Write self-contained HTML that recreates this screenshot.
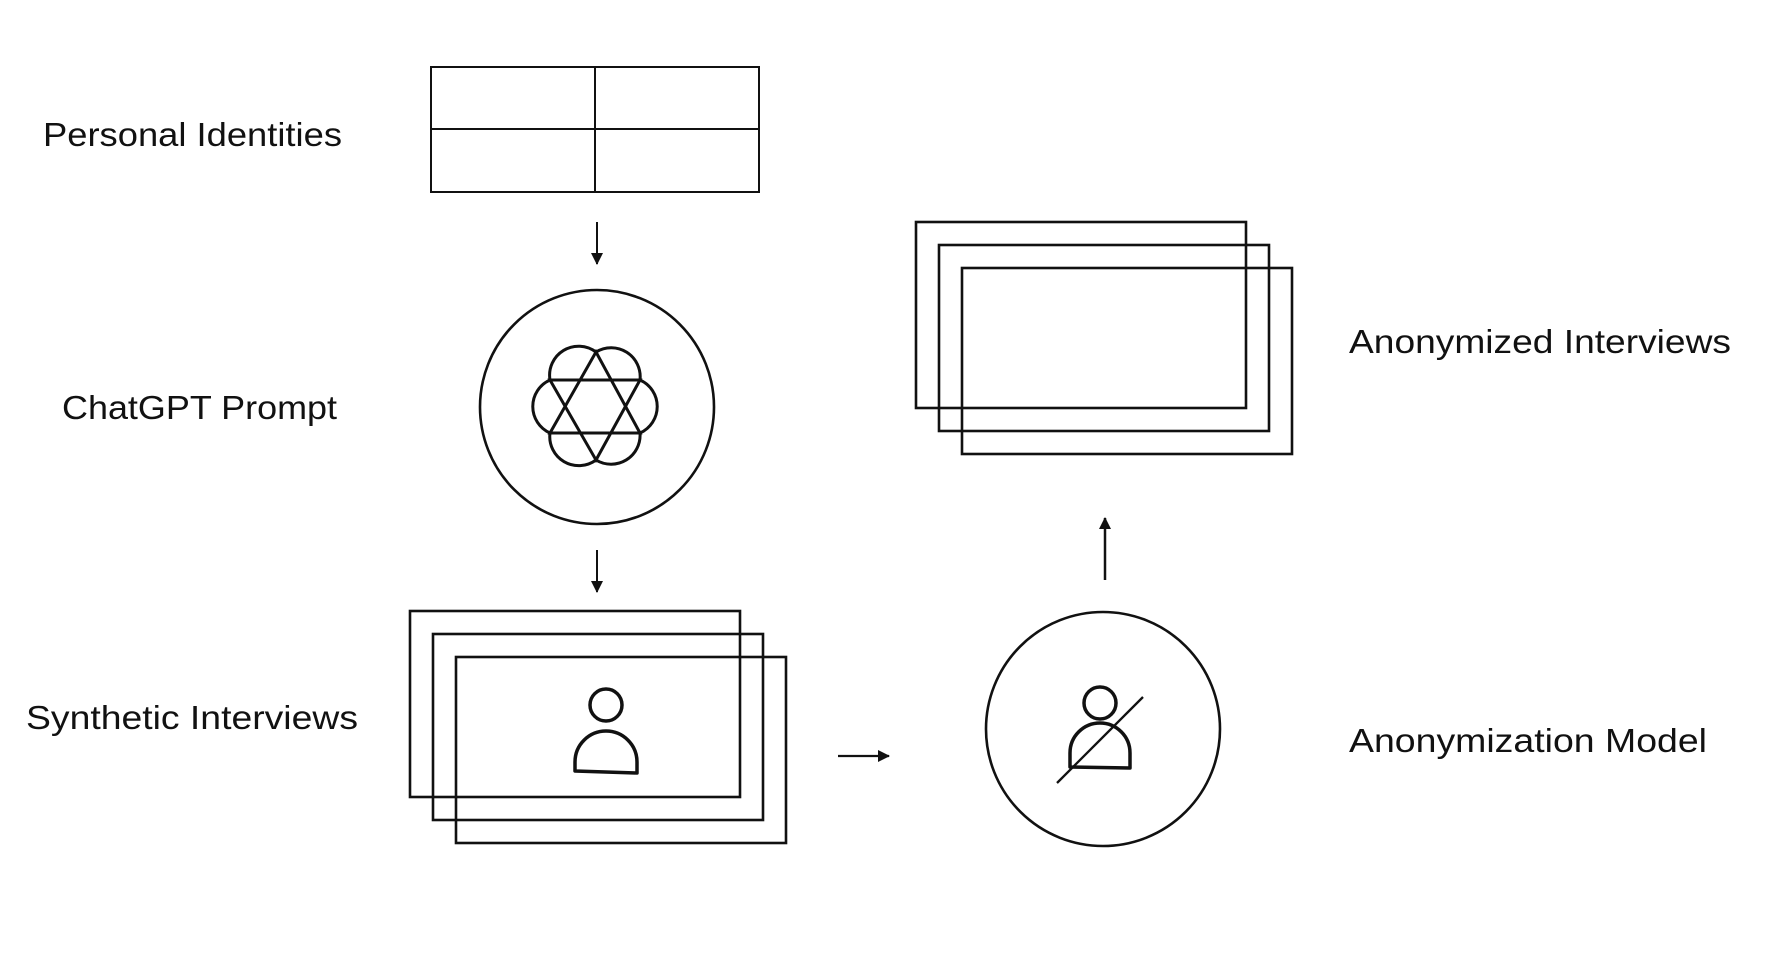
<!DOCTYPE html>
<html><head><meta charset="utf-8"><style>
html,body{margin:0;padding:0;background:#fff;}
svg{display:block;}
text{font-family:"Liberation Sans",sans-serif;font-size:33px;fill:#111;}
</style></head><body>
<svg width="1765" height="957" viewBox="0 0 1765 957" xmlns="http://www.w3.org/2000/svg">
<defs>
<marker id="ah" markerWidth="12" markerHeight="12" refX="11" refY="6" orient="auto" markerUnits="userSpaceOnUse">
<path d="M0,0 L12,6 L0,12 Z" fill="#111"/>
</marker>
</defs>
<g fill="none" stroke="#111">
<rect x="431" y="67" width="328" height="125" stroke-width="2"/>
<line x1="595" y1="67" x2="595" y2="192" stroke-width="2"/>
<line x1="431" y1="129" x2="759" y2="129" stroke-width="2"/>
<line x1="597" y1="222" x2="597" y2="264" stroke-width="2" marker-end="url(#ah)"/>
<line x1="597" y1="550" x2="597" y2="592" stroke-width="2" marker-end="url(#ah)"/>
<line x1="838" y1="756" x2="889" y2="756" stroke-width="2.2" marker-end="url(#ah)"/>
<line x1="1105" y1="580" x2="1105" y2="518" stroke-width="2.5" marker-end="url(#ah)"/>
<circle cx="597" cy="407" r="117" stroke-width="2.6"/>
<g stroke-width="3">
<polygon points="596,352 640,433 550,433"/>
<polygon points="596,460 640,380 550,380"/>
<path d="M596,352 A29,29 0 0 1 640,380 A29,29 0 0 1 640,433 A29,29 0 0 1 596,460 A29,29 0 0 1 550,433 A29,29 0 0 1 550,380 A29,29 0 0 1 596,352 Z"/>
</g>
<g stroke-width="2.6">
<rect x="410" y="611" width="330" height="186"/>
<rect x="433" y="634" width="330" height="186"/>
<rect x="456" y="657" width="330" height="186"/>
</g>
<circle cx="606" cy="705" r="16" stroke-width="3.5"/>
<path d="M575,771 L575,762 A31,31 0 0 1 637,762 L637,773 Z" stroke-width="3.5" stroke-linejoin="round"/>
<circle cx="1103" cy="729" r="117" stroke-width="2.6"/>
<circle cx="1100" cy="703" r="16" stroke-width="3.5"/>
<path d="M1070,767 L1070,753 A30,30 0 0 1 1130,753 L1130,768 Z" stroke-width="3.5" stroke-linejoin="round"/>
<line x1="1057" y1="783" x2="1143" y2="697" stroke-width="2.3"/>
<g stroke-width="2.6">
<rect x="916" y="222" width="330" height="186"/>
<rect x="939" y="245" width="330" height="186"/>
<rect x="962" y="268" width="330" height="186"/>
</g>
</g>
<text x="43" y="146" textLength="299" lengthAdjust="spacingAndGlyphs">Personal Identities</text>
<text x="62" y="419" textLength="275" lengthAdjust="spacingAndGlyphs">ChatGPT Prompt</text>
<text x="26" y="729" textLength="332" lengthAdjust="spacingAndGlyphs">Synthetic Interviews</text>
<text x="1349" y="353" textLength="382" lengthAdjust="spacingAndGlyphs">Anonymized Interviews</text>
<text x="1349" y="752" textLength="358" lengthAdjust="spacingAndGlyphs">Anonymization Model</text>
</svg>
</body></html>
